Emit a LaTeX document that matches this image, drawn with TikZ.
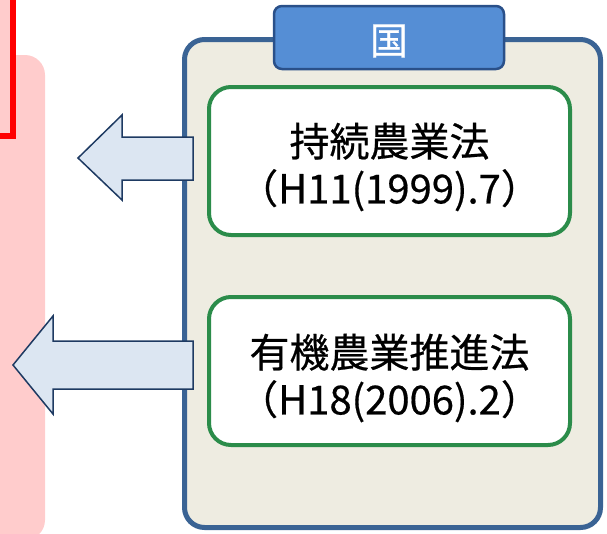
\documentclass[tikz,border=0pt]{standalone}
\usepackage{fontspec}
\setmainfont{Noto Sans CJK JP}
\definecolor{pinkbg}{HTML}{FFCCCC}
\definecolor{redline}{HTML}{FF0000}
\definecolor{govfill}{HTML}{EEECE1}
\definecolor{govline}{HTML}{3A6394}
\definecolor{tabfill}{HTML}{558ED5}
\definecolor{tabline}{HTML}{2A5089}
\definecolor{lawgreen}{HTML}{2B8C4A}
\definecolor{arrowfill}{HTML}{DCE6F2}
\definecolor{arrowline}{HTML}{1E3A62}
\tikzset{
  govbox/.style={draw=govline, line width=5pt, fill=govfill, rounded corners=20pt,
    minimum width=416pt, minimum height=488pt, inner sep=0pt},
  tabbox/.style={draw=tabline, line width=2.5pt, fill=tabfill, rounded corners=8pt,
    minimum width=230pt, minimum height=63pt, inner sep=0pt},
  tabtext/.style={text=white, inner sep=0pt,
    font=\fontsize{38}{40}\selectfont\addfontfeature{FakeBold=0.4}},
  lawbox/.style={draw=lawgreen, line width=4pt, fill=white, rounded corners=22pt,
    minimum width=361pt, minimum height=148pt, inner sep=0pt},
  lawtext/.style={inner sep=0pt, align=center,
    font=\fontsize{40}{47}\selectfont\addfontfeature{FakeBold=0.5}},
  blockarrow/.style={draw=arrowline, line width=1.5pt, fill=arrowfill, line join=miter}
}
\begin{document}
\begin{tikzpicture}[x=1pt,y=-1pt]
\useasboundingbox (0,0) rectangle (607,533);
\clip (0,0) rectangle (607,533);
% left pink panel and red frame
\fill[pinkbg, rounded corners=20pt] (-30,55) rectangle (45,540);
\draw[redline, line width=6pt, fill=pinkbg] (-30,-30) rectangle (13,136);
% government box
\node[govbox] (gov) at (392.5,283.5) {};
\node[tabbox] (kuni) at (389,37.5) {};
\node[tabtext] (kunit) at (389,41) {国};
\node[lawbox] (law1) at (389.5,161) {};
\node[lawtext] (law1t) at (389.5,167) {持続農業法\\（H11(1999).7）};
\node[lawbox] (law2) at (389.5,371) {};
\node[lawtext] (law2t) at (389.5,378) {有機農業推進法\\（H18(2006).2）};
% block arrows
\draw[blockarrow] (193,137) -- (122,137) -- (122,115) -- (78,158) -- (122,200) -- (122,180) -- (193,180) -- cycle;
\draw[blockarrow] (193,341) -- (53,341) -- (53,316) -- (13,365) -- (53,414) -- (53,389) -- (193,389) -- cycle;
\end{tikzpicture}
\end{document}
